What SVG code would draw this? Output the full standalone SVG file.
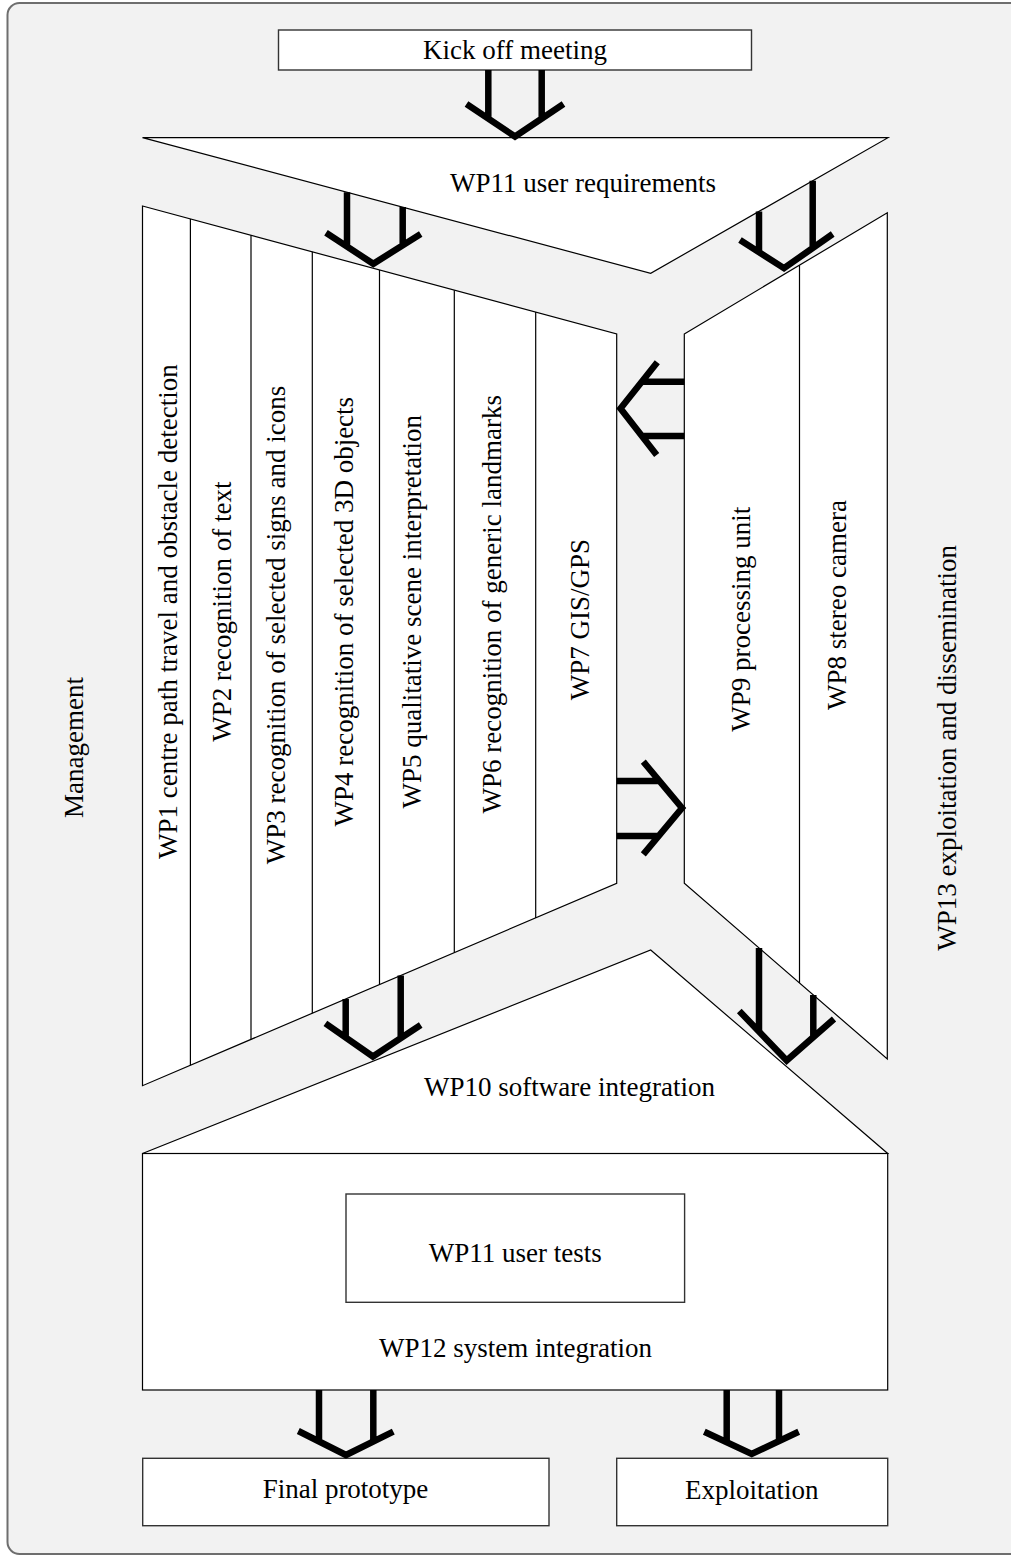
<svg xmlns="http://www.w3.org/2000/svg" width="1011" height="1555" viewBox="0 0 1011 1555">
<style>
.shape{fill:#fff;stroke:#000;stroke-width:1.2}
.box{fill:#fff;stroke:#333;stroke-width:1.4}
.div{stroke:#000;stroke-width:1.2;fill:none}
.t{font-family:"Liberation Serif","Times New Roman",serif;font-size:27px;fill:#000;text-anchor:middle}
.arr{fill:none;stroke:#000;stroke-width:6.5;stroke-linecap:butt;stroke-linejoin:miter;stroke-miterlimit:10}
</style>
<rect id="frame" x="7.5" y="3" width="1030" height="1551" rx="12" fill="#f2f2f2" stroke="#6e6e6e" stroke-width="2"/>
<text class="t" transform="translate(82.7,747.5) rotate(-90)">Management</text>
<text class="t" transform="translate(955.5,747.8) rotate(-90)">WP13 exploitation and dissemination</text>

<g id="kickoff">
<rect class="box" x="278.5" y="30" width="473" height="40"/>
<text class="t" x="515" y="59">Kick off meeting</text>
</g>

<g id="wp11req">
<polygon class="shape" points="142.5,137.7 888,137.7 650.7,273.3"/>
<text class="t" x="583" y="192">WP11 user requirements</text>
</g>

<g id="leftpanel">
<polygon class="shape" points="142.5,206 616.7,334 616.7,883.3 142.5,1085.7"/>
<path class="div" d="M190.4,218.9V1065.3M251,235.3V1039.4M312.3,251.8V1013.2M379.5,270V984.5M454.3,290.2V952.6M535.7,312.1V917.9"/>
</g>
<g id="wp1"><text class="t" transform="translate(177.3,611.7) rotate(-90)">WP1 centre path travel and obstacle detection</text></g>
<g id="wp2"><text class="t" transform="translate(230.7,611.7) rotate(-90)">WP2 recognition of text</text></g>
<g id="wp3"><text class="t" transform="translate(285.3,625) rotate(-90)">WP3 recognition of selected signs and icons</text></g>
<g id="wp4"><text class="t" transform="translate(352.5,611.7) rotate(-90)">WP4 recognition of selected 3D objects</text></g>
<g id="wp5"><text class="t" transform="translate(421.3,611.7) rotate(-90)">WP5 qualitative scene interpretation</text></g>
<g id="wp6"><text class="t" transform="translate(500.8,604.2) rotate(-90)">WP6 recognition of generic landmarks</text></g>
<g id="wp7"><text class="t" transform="translate(589,619.7) rotate(-90)">WP7 GIS/GPS</text></g>

<g id="rightpanel">
<polygon class="shape" points="684.3,334 887.3,212.7 887.3,1059 684.3,883.3"/>
<path class="div" d="M799.5,265.2V983"/>
</g>
<g id="wp9"><text class="t" transform="translate(750,619.2) rotate(-90)">WP9 processing unit</text></g>
<g id="wp8"><text class="t" transform="translate(845.5,605) rotate(-90)">WP8 stereo camera</text></g>

<g id="wp10">
<polygon class="shape" points="650.7,950 887.7,1153.5 142.5,1153.5"/>
<text class="t" x="569.5" y="1096">WP10 software integration</text>
</g>

<g id="wp12">
<rect class="shape" x="142.5" y="1153.5" width="745.2" height="236.5"/>
<text class="t" x="515.5" y="1356.7">WP12 system integration</text>
</g>

<g id="wp11tests">
<rect class="box" x="346" y="1194" width="338.6" height="108.3"/>
<text class="t" x="515.3" y="1261.7">WP11 user tests</text>
</g>

<g id="finalprototype">
<rect class="box" x="142.7" y="1458.3" width="406.3" height="67.4"/>
<text class="t" x="345.5" y="1498.3">Final prototype</text>
</g>

<g id="exploitation">
<rect class="box" x="616.7" y="1458.3" width="271" height="67.4"/>
<text class="t" x="751.7" y="1499">Exploitation</text>
</g>

<g id="connectors">
<path class="arr" d="M488.3,70V119M541.7,70V119M466.5,104L515,136.5L563.5,104"/>
<path class="arr" d="M347,192.3V247M402.7,207.1V246M326,232.7L373.3,263.8L420.7,234"/>
<path class="arr" d="M759,211.4V252.5M812.7,180.7V248.5M740,240L784,268.2L832.7,234"/>
<path class="arr" d="M684.3,381.7H641.3M684.3,436H641.4M657.3,362.3L620.5,408.5L656.7,455"/>
<path class="arr" d="M616.7,781H660M616.7,836H659.2M643.3,761.7L682,808L643.3,854.3"/>
<path class="arr" d="M345.7,999V1038M400.7,975.5V1038.7M325.4,1023.3L372.9,1056.5L420.7,1025"/>
<path class="arr" d="M759,948V1032M813.3,995V1037.7M739.3,1011L786.7,1060.5L834,1019"/>
<path class="arr" d="M319,1390V1442M373.3,1390V1442M298.3,1431L346,1455L393.3,1431.7"/>
<path class="arr" d="M726.7,1390V1442.7M779,1390V1441.5M704.3,1431.7L751.7,1454L798.7,1431.7"/>
</g>
</svg>
